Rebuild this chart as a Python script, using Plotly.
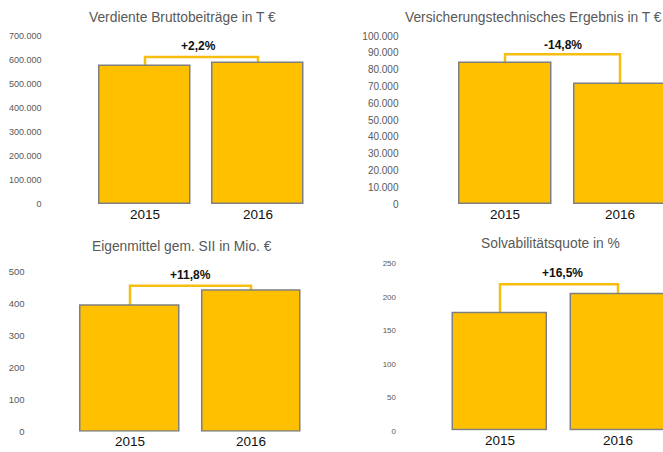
import plotly.graph_objects as go

W, H = 663, 452

years = ["2015", "2016"]
titles = [
    "Verdiente Bruttobeiträge in T €",
    "Versicherungstechnisches Ergebnis in T €",
    "Eigenmittel gem. SII in Mio. €",
    "Solvabilitätsquote in %",
]
values_beitraege = [575000, 587650]
values_vt_ergebnis = [83750, 71350]
values_eigenmittel = [394, 440.5]
values_solvabilitaet = [175, 203.9]
change_labels = ["+2,2%", "-14,8%", "+11,8%", "+16,5%"]
y_max = [700000, 100000, 500, 250]
y_dtick = [100000, 10000, 100, 50]

series = [values_beitraege, values_vt_ergebnis, values_eigenmittel, values_solvabilitaet]

# layout (pixels): x of category 0 center, px per category, right edge, y of zero, y of max
panels = [
    dict(c0=145, step=113, right=314.5, y0=204, ytop=36, standoff=46, tfont=9, tx=182, ty=17, bw=0.8, pad=0.036, lbl_y=46, lbl_dx=-3),
    dict(c0=505, step=115, right=663, y0=204, ytop=36, standoff=48, tfont=10, tx=533, ty=17, bw=0.8, pad=0.054, lbl_y=45, lbl_dx=0),
    dict(c0=130, step=121, right=311.5, y0=431.7, ytop=271.7, standoff=44, tfont=9.5, tx=182, ty=246, bw=0.81, pad=0.031, lbl_y=275, lbl_dx=0),
    dict(c0=500, step=118, right=663, y0=430.7, ytop=263.3, standoff=44, tfont=8, tx=550, ty=244, bw=0.8, pad=0.059, lbl_y=273, lbl_dx=3),
]

fig = go.Figure()
shapes = []
annotations = []
BAR = "#FFC000"
LINE = "#F7BE12"

for i, (vals, p) in enumerate(zip(series, panels)):
    n = "" if i == 0 else str(i + 1)
    xa, ya = "x" + n, "y" + n
    fig.add_trace(go.Bar(
        x=[0, 1], y=vals, xaxis=xa, yaxis=ya,
        marker=dict(color=BAR, line=dict(color="#7F7F7F", width=1.5)),
        width=p["bw"], showlegend=False, hoverinfo="skip",
    ))
    left_px = p["c0"] - 0.5 * p["step"]
    x_right_val = (p["right"] - p["c0"]) / p["step"]
    fig.layout["xaxis" + n] = dict(
        domain=[left_px / W, p["right"] / W], range=[-0.5, x_right_val],
        anchor=ya, tickmode="array", tickvals=[0, 1], ticktext=years,
        showgrid=False, zeroline=False, showline=False, ticks="",
        automargin=False,
        tickfont=dict(family="Liberation Sans, Arial", size=13.5, color="#111111"),
        fixedrange=True,
    )
    fig.layout["yaxis" + n] = dict(
        domain=[(H - p["y0"]) / H, (H - p["ytop"]) / H], range=[0, y_max[i]],
        anchor=xa, dtick=y_dtick[i], tickformat=",d",
        showgrid=False, zeroline=False, showline=False, ticks="",
        automargin=False,
        ticklabelstandoff=p["standoff"],
        tickfont=dict(family="Liberation Sans, Arial", size=p["tfont"], color="#595959"),
        fixedrange=True,
    )
    level = max(vals) + p["pad"] * y_max[i]
    shapes.append(dict(
        type="path", xref=xa, yref=ya,
        path=f"M 0 {vals[0]} L 0 {level} L 1 {level} L 1 {vals[1]}",
        line=dict(color=LINE, width=2.5), layer="below",
    ))
    annotations.append(dict(
        text=change_labels[i], xref="paper", yref="paper",
        x=(p["c0"] + 0.5 * p["step"] + p["lbl_dx"]) / W, y=(H - p["lbl_y"]) / H,
        showarrow=False, xanchor="center", yanchor="middle",
        font=dict(family="Liberation Sans, Arial", size=12, color="#111111", weight="bold"),
    ))
    annotations.append(dict(
        text=titles[i], xref="paper", yref="paper",
        x=p["tx"] / W, y=(H - p["ty"]) / H,
        showarrow=False, xanchor="center", yanchor="middle",
        font=dict(family="Liberation Sans, Arial", size=13.8, color="#595959"),
    ))

fig.update_layout(
    width=W, height=H, margin=dict(l=0, r=0, t=0, b=0, autoexpand=False),
    paper_bgcolor="white", plot_bgcolor="white",
    separators=",.", shapes=shapes, annotations=annotations,
    bargap=0,
)
fig.write_html(
    "out.html", config=dict(displayModeBar=False),
    post_script="document.body.style.margin='0';document.body.style.overflow='hidden';",
)
